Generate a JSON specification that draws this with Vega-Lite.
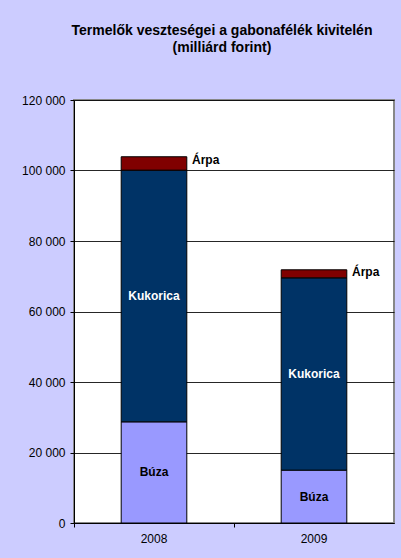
{
  "$schema": "https://vega.github.io/schema/vega-lite/v6.json",
  "width": 320,
  "height": 423,
  "autosize": {"type": "none"},
  "padding": {"left": 74, "top": 100, "right": 7, "bottom": 35},
  "background": "#CCCCFF",
  "title": {
    "text": ["Termelők veszteségei a gabonafélék kivitelén", "(milliárd forint)"],
    "font": "Liberation Sans",
    "fontSize": 14,
    "fontWeight": "bold",
    "color": "#000000",
    "anchor": "middle",
    "dx": -12,
    "offset": 39,
    "lineHeight": 17
  },
  "data": {
    "values": [
      {"year": "2008", "crop": "Búza", "o": 1, "value": 28700},
      {"year": "2008", "crop": "Kukorica", "o": 2, "value": 71400},
      {"year": "2008", "crop": "Árpa", "o": 3, "value": 3800},
      {"year": "2009", "crop": "Búza", "o": 1, "value": 15000},
      {"year": "2009", "crop": "Kukorica", "o": 2, "value": 54550},
      {"year": "2009", "crop": "Árpa", "o": 3, "value": 2280}
    ]
  },
  "encoding": {
    "x": {
      "field": "year",
      "type": "nominal",
      "scale": {"paddingInner": 0, "paddingOuter": 0},
      "axis": {
        "title": null,
        "bandPosition": 0,
        "labelAngle": 0,
        "tickSize": 4,
        "tickColor": "#000000",
        "domainColor": "#000000",
        "labelPadding": 6,
        "labelFont": "Liberation Sans",
        "labelFontSize": 12,
        "labelColor": "#000000",
        "grid": false
      }
    },
    "y": {
      "field": "value",
      "type": "quantitative",
      "stack": "zero",
      "scale": {"domain": [0, 120000], "nice": false},
      "axis": {
        "title": null,
        "values": [0, 20000, 40000, 60000, 80000, 100000, 120000],
        "labelExpr": "replace(format(datum.value, ','), ',', ' ')",
        "grid": true,
        "gridColor": "#000000",
        "gridOpacity": 0.85,
        "tickColor": "#000000",
        "domainColor": "#000000",
        "tickSize": 4,
        "labelPadding": 5,
        "labelFont": "Liberation Sans",
        "labelFontSize": 12,
        "labelColor": "#000000"
      }
    },
    "order": {"field": "o", "type": "quantitative"},
    "detail": {"field": "crop"}
  },
  "layer": [
    {
      "mark": {"type": "bar", "width": {"band": 0.41}, "stroke": "#000000", "strokeWidth": 1},
      "encoding": {
        "color": {
          "field": "crop",
          "type": "nominal",
          "scale": {"domain": ["Búza", "Kukorica", "Árpa"], "range": ["#9999FF", "#003366", "#800000"]},
          "legend": null
        }
      }
    },
    {
      "mark": {"type": "text", "font": "Liberation Sans", "fontSize": 12, "fontWeight": "bold", "baseline": "middle", "align": "center"},
      "encoding": {
        "y": {
          "field": "value",
          "type": "quantitative",
          "stack": "zero",
          "bandPosition": 0.5,
          "axis": {
            "title": null,
            "values": [0, 20000, 40000, 60000, 80000, 100000, 120000],
            "labelExpr": "replace(format(datum.value, ','), ',', ' ')",
            "grid": true,
            "gridColor": "#000000",
            "gridOpacity": 0.85,
            "tickColor": "#000000",
            "domainColor": "#000000",
            "tickSize": 4,
            "labelPadding": 5,
            "labelFont": "Liberation Sans",
            "labelFontSize": 12,
            "labelColor": "#000000"
          }
        },
        "text": {"condition": {"test": "datum.crop !== 'Árpa'", "field": "crop"}, "value": ""},
        "color": {"condition": {"test": "datum.crop === 'Kukorica'", "value": "#ffffff"}, "value": "#000000"}
      }
    },
    {
      "mark": {"type": "text", "font": "Liberation Sans", "fontSize": 12, "fontWeight": "bold", "baseline": "middle", "align": "left", "dx": 38, "color": "#000000"},
      "encoding": {
        "y": {
          "field": "value",
          "type": "quantitative",
          "stack": "zero",
          "bandPosition": 0.75,
          "axis": {
            "title": null,
            "values": [0, 20000, 40000, 60000, 80000, 100000, 120000],
            "labelExpr": "replace(format(datum.value, ','), ',', ' ')",
            "grid": true,
            "gridColor": "#000000",
            "gridOpacity": 0.85,
            "tickColor": "#000000",
            "domainColor": "#000000",
            "tickSize": 4,
            "labelPadding": 5,
            "labelFont": "Liberation Sans",
            "labelFontSize": 12,
            "labelColor": "#000000"
          }
        },
        "text": {"condition": {"test": "datum.crop === 'Árpa'", "field": "crop"}, "value": ""}
      }
    }
  ],
  "config": {
    "view": {"fill": "#ffffff", "stroke": "#888888", "strokeWidth": 2}
  }
}
